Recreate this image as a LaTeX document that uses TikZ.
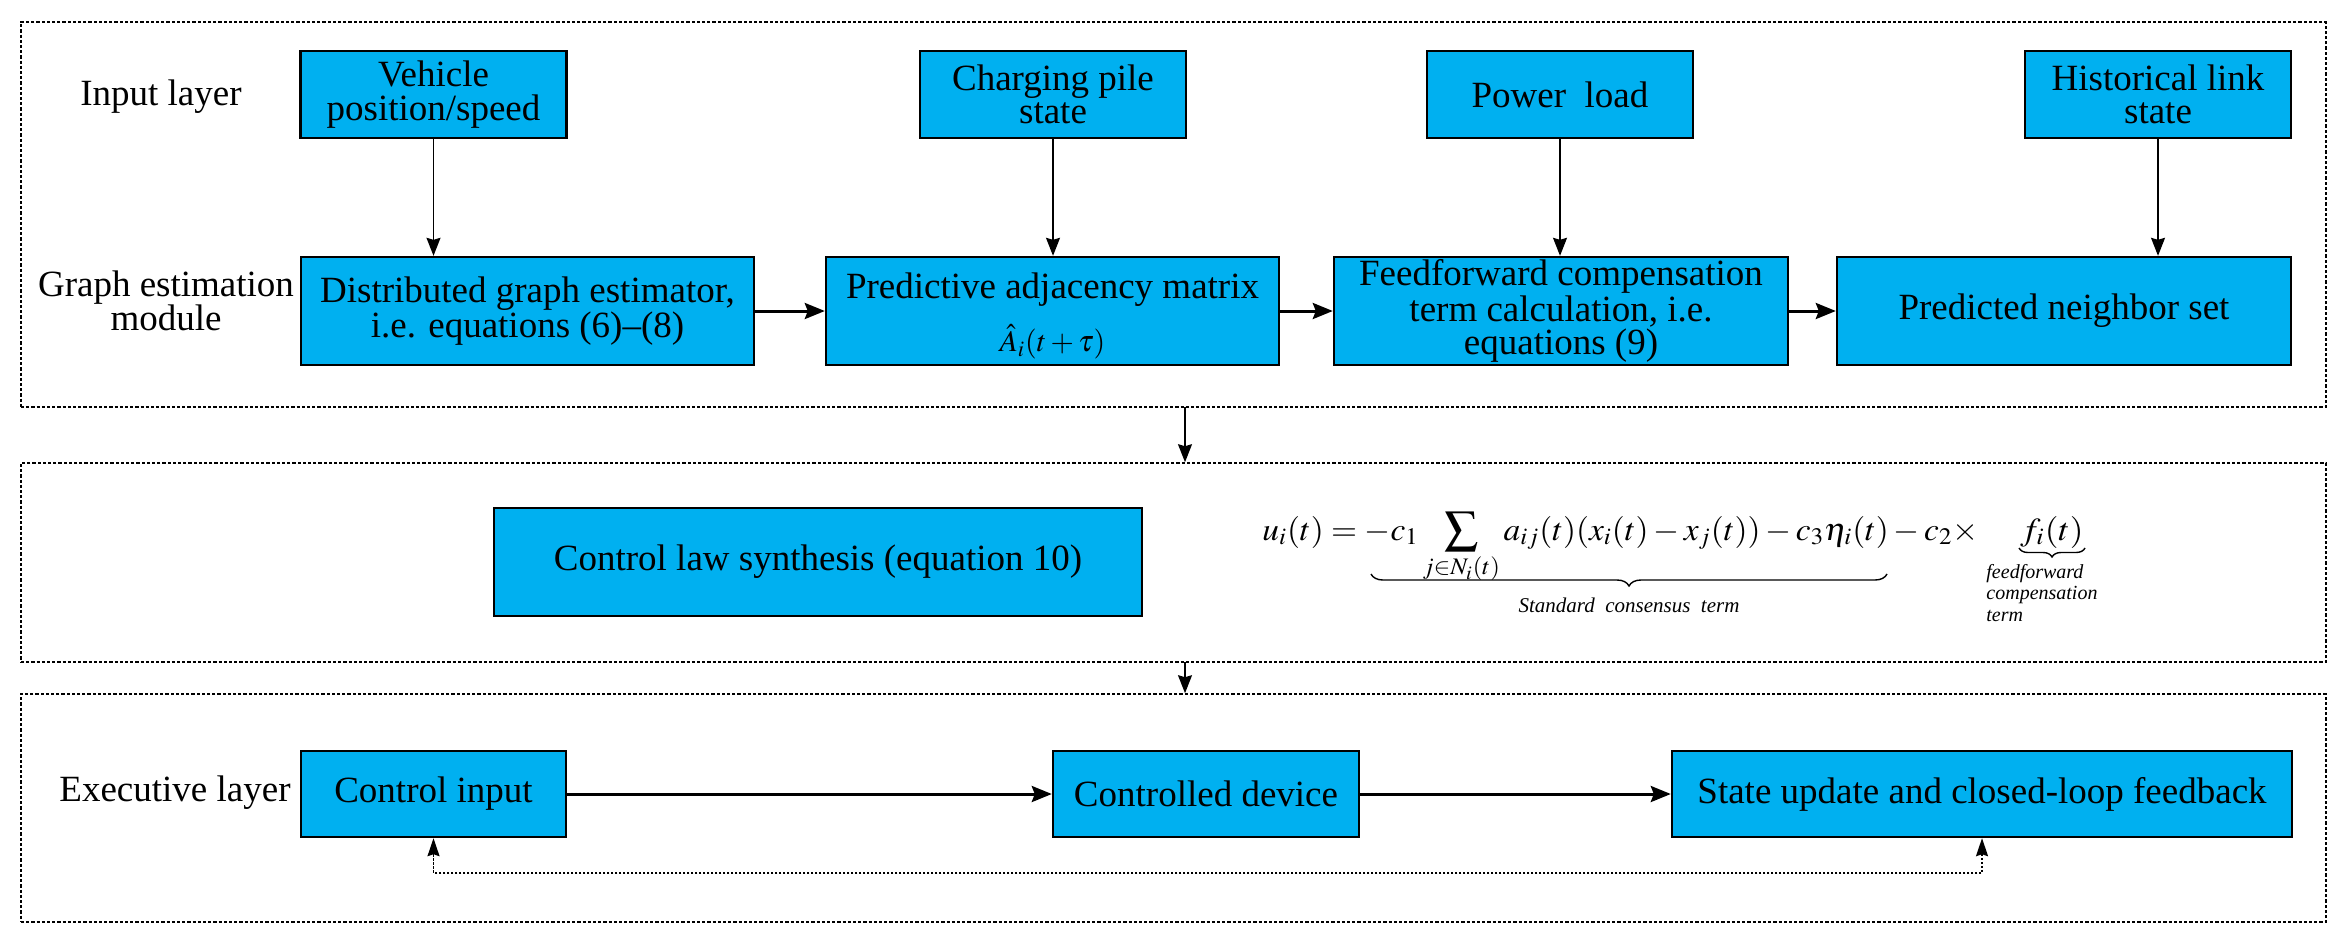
\documentclass[tikz,border=0pt]{standalone}
\usepackage{amsmath}
\usepackage{mathptmx}
\usepackage[no-math]{fontspec}
\setmainfont{Liberation Serif}
\newfontfamily\tnr[Ligatures=TeX]{Liberation Serif}
\usetikzlibrary{arrows.meta,decorations.pathreplacing}
\definecolor{boxblue}{HTML}{00B0F0}
\newsavebox\eqbox
\newsavebox\eqboxb
\tikzset{
  frame/.style={draw, line width=0.8pt, dash pattern=on 1.6pt off 1pt, inner sep=0},
  blk/.style={draw, fill=boxblue, line width=1.2pt, align=center, inner sep=1pt,
    font=\tnr\fontsize{18.5}{16.75}\selectfont},
  lbl/.style={align=center, font=\tnr\fontsize{18.5}{17.25}\selectfont},
  thin arrow/.style={-{Stealth[length=9pt,width=7pt,inset=1pt]}, line width=0.7pt},
  thick arrow/.style={-{Stealth[length=10pt,width=8pt,inset=1.5pt]}, line width=1.5pt},
  fb/.style={{Stealth[length=9pt,width=6pt,inset=1pt]}-{Stealth[length=9pt,width=6pt,inset=1pt]}, line width=0.8pt, dash pattern=on 1.2pt off 0.8pt},
  brc/.style={decorate, decoration={brace, mirror, amplitude=6pt}, line width=0.7pt}
}
\begin{document}
\begin{tikzpicture}[x=0.5pt,y=-0.5pt]
\useasboundingbox (0,0) rectangle (2348,943);
% frames
\node[frame, minimum width=1152.5pt, minimum height=192.5pt] (f1) at (1173.5,214.5) {};
\node[frame, minimum width=1152.5pt, minimum height=99.5pt] (f2) at (1173.5,562.5) {};
\node[frame, minimum width=1152.5pt, minimum height=114pt] (f3) at (1173.5,808) {};
% labels
\node[lbl] (lin) at (161,97) {Input layer};
\node[lbl] (lge) at (166,301) {Graph estimation\\module};
\node[lbl] (lex) at (175,793) {Executive layer};
% input layer
\node[blk, minimum width=133pt, minimum height=43.5pt] (veh) at (433.5,94.5) {Vehicle\\position/speed};
\node[blk, minimum width=133pt, minimum height=43.5pt] (chg) at (1053,94.5) {Charging pile\\state};
\node[blk, minimum width=133pt, minimum height=43.5pt] (pwr) at (1560,94.5) {Power~ load};
\node[blk, minimum width=133pt, minimum height=43.5pt] (his) at (2158,94.5) {Historical link\\state};
% graph estimation
\node[blk, minimum width=226.5pt, minimum height=54pt] (dge) at (527.5,311) {Distributed graph estimator,\\i.e. equations (6)–(8)};
\node[blk, minimum width=226.5pt, minimum height=54pt] (pam) at (1052.5,311) {};
\node[inner sep=0, font=\tnr\fontsize{18.5}{17.25}\selectfont] (pamt) at (1052.5,290) {Predictive adjacency matrix};
\node[inner sep=0, font=\fontsize{15}{15}\selectfont] (pamm) at (1052.5,342) {$\hat{A}_i(t+\tau)$};
\node[blk, minimum width=227pt, minimum height=54pt] (ffc) at (1561,311) {Feedforward compensation\\term calculation, i.e.\\equations (9)};
\node[blk, minimum width=227pt, minimum height=54pt] (pns) at (2064,311) {Predicted neighbor set};
% control law
\node[blk, minimum width=324pt, minimum height=54pt] (cls) at (818,562) {Control law synthesis (equation 10)};
\sbox\eqbox{\fontsize{16}{16}\selectfont$u_i(t)=-c_1\mathop{\vcenter{\hbox{\fontsize{23}{23}\selectfont$\sum$}}}\limits_{j\in N_i(t)}a_{ij}(t)(x_i(t)-x_j(t))-c_3\eta_i(t)-c_2\times$}
\sbox\eqboxb{\fontsize{16}{16}\selectfont$f_i(t)$}
\node[anchor=base west, inner sep=0] (eq) at (1262,540) {\resizebox{358pt}{\height}{\usebox\eqbox}};
\node[anchor=base west, inner sep=0] (eqf) at (2020,540) {\resizebox{31.5pt}{\height}{\usebox\eqboxb}};
\coordinate (b1s) at (1371,574);
\coordinate (b1e) at (1887,574);
\coordinate (b2s) at (2019,548);
\coordinate (b2e) at (2085,548);
\draw[brc] (b1s) -- (b1e);
\draw[brc, decoration={amplitude=4.5pt}] (b2s) -- (b2e);
\node[font=\tnr\itshape\fontsize{10.5}{12}\selectfont, inner sep=0] (std) at (1629,605) {Standard~ consensus~ term};
\node[anchor=north west, align=left, inner sep=0, font=\tnr\itshape\fontsize{10}{10.75}\selectfont] (fct) at (1986,564) {feedforward\\compensation\\term};
% executive layer
\node[blk, minimum width=132.5pt, minimum height=43pt] (cin) at (433.5,794) {Control input};
\node[blk, minimum width=153pt, minimum height=43pt] (cdv) at (1206,794) {Controlled device};
\node[blk, minimum width=310pt, minimum height=43pt] (sup) at (1982,794) {State update and closed-loop feedback};
% arrows
\draw[thin arrow] (veh.south) -- (veh.south |- dge.north);
\draw[thin arrow] (chg.south) -- (chg.south |- pam.north);
\draw[thin arrow] (pwr.south) -- (pwr.south |- ffc.north);
\draw[thin arrow] (his.south) -- (his.south |- pns.north);
\draw[thick arrow] (dge) -- (pam);
\draw[thick arrow] (pam) -- (ffc);
\draw[thick arrow] (ffc) -- (pns);
\coordinate (a1) at (1185,407);
\coordinate (a2) at (1185,662);
\draw[thin arrow] (a1) -- (a1 |- f2.north);
\draw[thin arrow] (a2) -- (a2 |- f3.north);
\draw[thick arrow] (cin) -- (cdv);
\draw[thick arrow] (cdv) -- (sup);
\coordinate (fbl) at (433.5,873);
\draw[fb] (sup.south) |- (fbl) -- (cin.south);
\end{tikzpicture}
\end{document}
